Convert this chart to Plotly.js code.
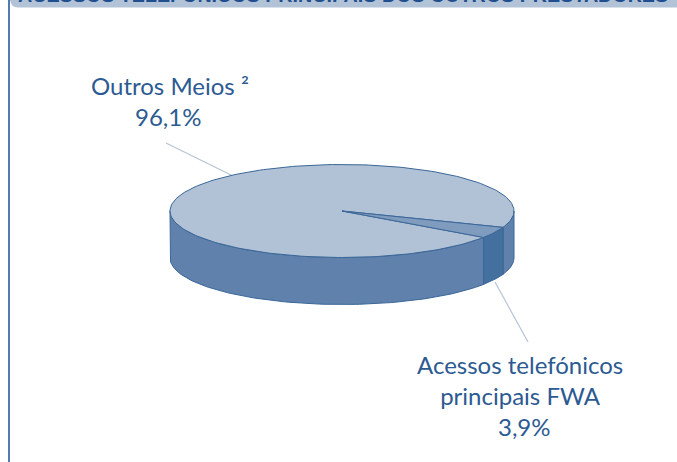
<!DOCTYPE html>
<html>
<head>
<meta charset="utf-8">
<script src="https://cdn.plot.ly/plotly-3.0.1.min.js"></script>
<style>html,body{margin:0;padding:0;background:#fff;overflow:hidden}#c{width:677px;height:462px}</style>
</head>
<body>
<div id="c"></div>
<script>
var categories = ["Outros Meios ²", "Acessos telefónicos<br>principais FWA"];
var shares = [96.1, 3.9];
var shareLabels = ["96,1%", "3,9%"];
var headerText = "ACESSOS TELEFÓNICOS PRINCIPAIS DOS OUTROS PRESTADORES";

var topColors = ["#b1c2d6", "#7f9bbe"];
var sideColors = ["#5f81ab", "#44709f"];
var edge = "#3a6698";
var ink = "#2c5a92";

var cx = 342, cy = 211, rx = 172, ry = 46.5, depth = 47;
var startDeg = 20.6;
var wedgeStart = startDeg;
var wedgeEnd = wedgeStart + shares[1] * 3.6;

function pt(d, dy) {
  var r = d * Math.PI / 180;
  return [cx + rx * Math.cos(r), cy + ry * Math.sin(r) + (dy || 0)];
}
function arc(a, b, dy) {
  var out = [], n = Math.max(2, Math.ceil(Math.abs(b - a) / 1.5));
  for (var i = 0; i <= n; i++) out.push(pt(a + (b - a) * i / n, dy));
  return out;
}
function poly(points, fill, w) {
  return {
    type: "scatter", mode: "lines", hoverinfo: "skip", showlegend: false,
    x: points.map(function (p) { return p[0]; }),
    y: points.map(function (p) { return p[1]; }),
    fill: "toself", fillcolor: fill,
    line: { color: edge, width: w === undefined ? 1 : w }
  };
}
function wall(a, b, fill) {
  return poly(arc(a, b, 0).concat(arc(b, a, depth)).concat([pt(a, 0)]), fill);
}
function leader(p, q) {
  return {
    type: "scatter", mode: "lines", hoverinfo: "skip", showlegend: false,
    x: [p[0], q[0]], y: [p[1], q[1]],
    line: { color: "#b4c4d8", width: 1.2 }
  };
}

var data = [
  leader([166, 143], [233, 176]),
  leader([495, 282], [528, 342]),
  wall(0, wedgeStart, sideColors[0]),
  wall(wedgeStart, wedgeEnd, sideColors[1]),
  wall(wedgeEnd, 180, sideColors[0]),
  poly([[cx, cy]].concat(arc(wedgeEnd, wedgeStart + 360, 0)).concat([[cx, cy]]), topColors[0]),
  poly([[cx, cy]].concat(arc(wedgeStart, wedgeEnd, 0)).concat([[cx, cy]]), topColors[1])
];

function label(text, x, y) {
  return {
    xref: "x", yref: "y", x: x, y: y, text: text, showarrow: false,
    xanchor: "center", yanchor: "middle", align: "center",
    font: { family: "Lato, 'Open Sans', sans-serif", size: 24, color: ink }
  };
}

var layout = {
  width: 677, height: 462,
  margin: { l: 0, r: 0, t: 0, b: 0 },
  paper_bgcolor: "#ffffff", plot_bgcolor: "#ffffff",
  xaxis: { range: [0, 677], visible: false, fixedrange: true },
  yaxis: { range: [462, 0], visible: false, fixedrange: true },
  showlegend: false,
  shapes: [
    { type: "path", xref: "x", yref: "y", layer: "below",
      path: "M 10 0 L 677 0 L 677 7.5 L 18 7.5 Q 11 7.5 10 0 Z",
      fillcolor: "#b3c3d7", line: { width: 0 } },
    { type: "line", xref: "x", yref: "y", layer: "below", x0: 9, x1: 9, y0: 0, y1: 462,
      line: { color: "#1b4f94", width: 1.5 } }
  ],
  annotations: [
    label(categories[0], 170, 85),
    label(shareLabels[0], 168, 116),
    { xref: "x", yref: "y", x: 520, y: 380, text: categories[1], showarrow: false,
      xanchor: "center", yanchor: "middle", align: "center",
      font: { family: "Lato, 'Open Sans', sans-serif", size: 24, color: ink } },
    label(shareLabels[1], 524, 426),
    { xref: "x", yref: "y", x: 343, y: 8.5, text: "<b>" + headerText + "</b>", showarrow: false,
      xanchor: "center", yanchor: "bottom", align: "center",
      font: { family: "Liberation Sans, sans-serif", size: 19.7, color: "#1f4f8e" } }
  ]
};
Plotly.newPlot("c", data, layout, { displayModeBar: false, staticPlot: true });
</script>
</body>
</html>
